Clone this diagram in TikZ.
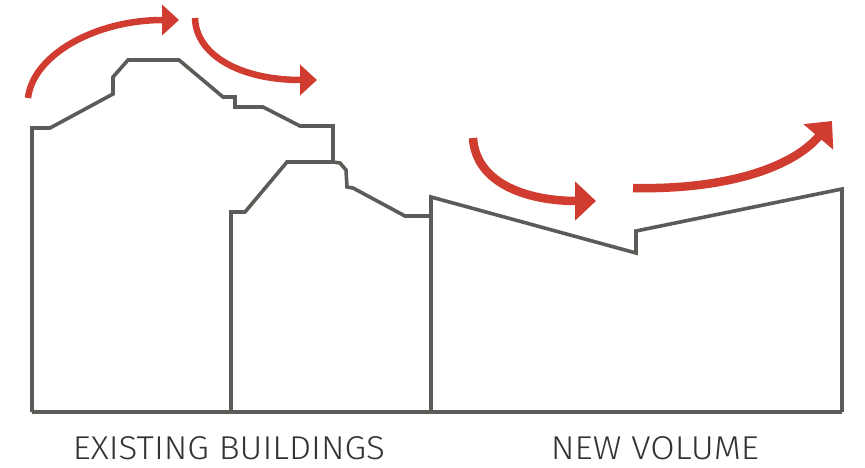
\documentclass[tikz,border=0pt]{standalone}
\usepackage{fontspec}
\setmainfont{Fira Sans}[UprightFont={* Light}]
\usetikzlibrary{arrows.meta}
\definecolor{wall}{HTML}{5B5B57}
\definecolor{wind}{HTML}{D13C30}
\definecolor{txt}{HTML}{333333}
\tikzset{
  outline/.style={draw=wall, line width=3.6pt, line join=miter},
  windthin/.style={draw=wind, line width=6.5pt, -{Triangle[width=30pt,length=17pt]}},
  windthick/.style={draw=wind, line width=8.5pt, -{Triangle[width=38pt,length=21pt]}},
  label/.style={text=txt, font=\fontsize{33}{36}\selectfont, anchor=base, inner sep=0pt}
}
\begin{document}
\begin{tikzpicture}[x=1pt,y=-1pt]
\useasboundingbox (0,0) rectangle (865,468);
% ground
\draw[outline] (32,412) -- (842,412);
% building 1
\draw[outline] (32,412) -- (32,128) -- (50,128) -- (113,94) -- (113,77) -- (128,60) -- (179,60)
  -- (223,97) -- (235,97) -- (235,107) -- (263,107) -- (300,126) -- (333,126) -- (333,162);
% building 2
\draw[outline] (231,412) -- (231,212) -- (245,212) -- (287,162) -- (333,162) -- (340,163)
  -- (346,170) -- (347,187) -- (353,188) -- (405,216) -- (431,216);
% new volume
\draw[outline] (431,412) -- (431,197) -- (636,253) -- (636,231) -- (842,189) -- (842,412);
% wind arrows
\draw[windthin] (28,98) .. controls (33,55) and (95,20) .. (179,20);
\draw[windthin] (195,18) .. controls (196,55) and (240,80) .. (317,80);
\draw[windthick] (473,138) .. controls (476,185) and (530,201) .. (596,201);
\draw[windthick] (633,188) .. controls (720,190) and (790,170) .. (832,121);
% labels
\node[label] (existing) at (229,459) {\scalebox{1.06}[1]{EXISTING BUILDINGS}};
\node[label] (newvol) at (655,459) {\scalebox{1.07}[1]{NEW VOLUME}};
\end{tikzpicture}
\end{document}
